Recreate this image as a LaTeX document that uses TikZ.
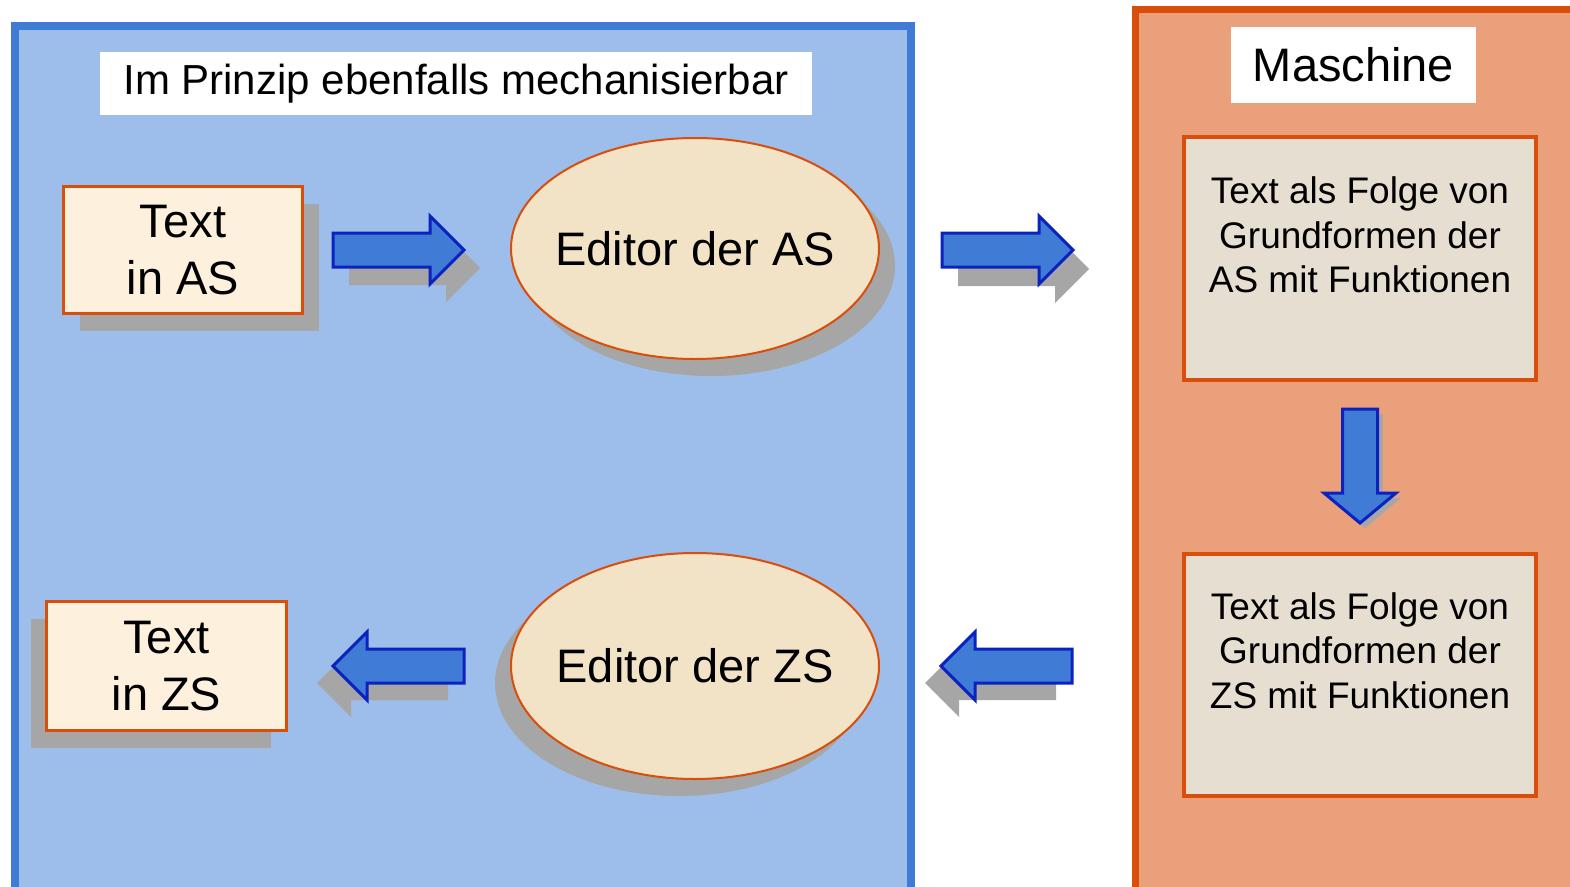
\documentclass[tikz,border=0pt]{standalone}
\usepackage{fontspec}
\setmainfont{Liberation Sans}
\usetikzlibrary{shapes.geometric,shadows}
\definecolor{panelblue}{RGB}{64,124,214}
\definecolor{blueFill}{RGB}{157,189,234}
\definecolor{panelorange}{RGB}{216,78,10}
\definecolor{orangeFill}{RGB}{234,160,122}
\definecolor{arrowfill}{RGB}{64,124,214}
\definecolor{arrowline}{RGB}{10,34,192}
\definecolor{creamfill}{RGB}{253,240,221}
\definecolor{parchment}{RGB}{243,227,198}
\definecolor{linenfill}{RGB}{230,222,208}
\definecolor{shadowgray}{RGB}{166,166,166}
\tikzset{
  panelB/.style={draw=panelblue, fill=blueFill, line width=8pt},
  panelO/.style={draw=panelorange, fill=orangeFill, line width=7pt},
  whitebox/.style={fill=white, draw=none, inner sep=0pt},
  shR/.style={drop shadow={shadow xshift=16pt, shadow yshift=-17pt, fill=shadowgray, opacity=1}},
  shL/.style={drop shadow={shadow xshift=-16pt, shadow yshift=-17pt, fill=shadowgray, opacity=1}},
  textbox/.style={draw=panelorange, line width=3pt, fill=creamfill, inner sep=0pt,
    align=center, font=\fontsize{47}{57}\selectfont},
  editor/.style={ellipse, draw=panelorange, line width=2pt, fill=parchment, inner sep=0pt,
    minimum width=368pt, minimum height=221pt},
  edtext/.style={font=\fontsize{47}{57}\selectfont, inner sep=0pt},
  linenbox/.style={draw=panelorange, line width=4pt, fill=linenfill, inner sep=0pt,
    minimum width=352pt, minimum height=243pt},
  rtext/.style={font=\fontsize{37}{44.5}\selectfont, align=center, inner sep=0pt},
  arrowstyle/.style={fill=arrowfill, draw=arrowline, line width=3pt, line join=miter},
  arrowshadow/.style={fill=shadowgray},
  blockarrow/.pic={\path[pic actions] (0,-17) -- (97,-17) -- (97,-34) -- (131,0) -- (97,34) -- (97,17) -- (0,17) -- cycle;},
  downarrow/.pic={\path[pic actions] (-17.5,0) -- (-17.5,84) -- (-36,84) -- (0,114) -- (36,84) -- (17.5,84) -- (17.5,0) -- cycle;},
}
\begin{document}
\begin{tikzpicture}[x=1pt,y=-1pt]
\clip (0,0) rectangle (1570,886);
\fill[white] (0,0) rectangle (1570,886);
% panels
\path[panelB] (15,26) rectangle (911,920);
\path[panelO] (1135.5,9.5) rectangle (1600,920);
% panel titles
\node[whitebox, minimum width=712pt, minimum height=63pt, font=\fontsize{42}{50}\selectfont] (title) at (456,83.5) {Im Prinzip ebenfalls mechanisierbar};
\node[whitebox, minimum width=245pt, minimum height=76pt, font=\fontsize{47}{56}\selectfont] (maschine) at (1353.5,65) {Maschine};
% arrow shadows
\pic[arrowshadow] (arrAs) at (349,268) {blockarrow};
\pic[arrowshadow] (arrBs) at (958,269) {blockarrow};
\pic[arrowshadow, rotate=180] (arrCs) at (1056,683) {blockarrow};
\pic[arrowshadow, rotate=180] (arrDs) at (448,683) {blockarrow};
\pic[arrowshadow] (arrVs) at (1365,414) {downarrow};
% arrows
\pic[arrowstyle] (arrA) at (333,250) {blockarrow};
\pic[arrowstyle] (arrB) at (942,250) {blockarrow};
\pic[arrowstyle, rotate=180] (arrC) at (1072,666) {blockarrow};
\pic[arrowstyle, rotate=180] (arrD) at (464,666) {blockarrow};
\pic[arrowstyle] (arrV) at (1360,409) {downarrow};
% left column
\node[textbox, shR, minimum width=239pt, minimum height=127pt] (tas) at (183,250) {Text\\in AS};
\node[textbox, shL, minimum width=240pt, minimum height=129pt] (tzs) at (166.5,666) {Text\\in ZS};
% editors
\node[editor, shR, label={[edtext]center:Editor der AS}] (eas) at (695,248.5) {};
\node[editor, shL, minimum height=226pt, label={[edtext]center:Editor der ZS}] (ezs) at (695,666) {};
% machine boxes
\node[linenbox, label={[rtext, yshift=23.5pt]center:Text als Folge von\\Grundformen der\\AS mit Funktionen}] (mas) at (1360,258.5) {};
\node[linenbox, minimum height=242pt, label={[rtext, yshift=24.5pt]center:Text als Folge von\\Grundformen der\\ZS mit Funktionen}] (mzs) at (1360,675) {};
\end{tikzpicture}
\end{document}
